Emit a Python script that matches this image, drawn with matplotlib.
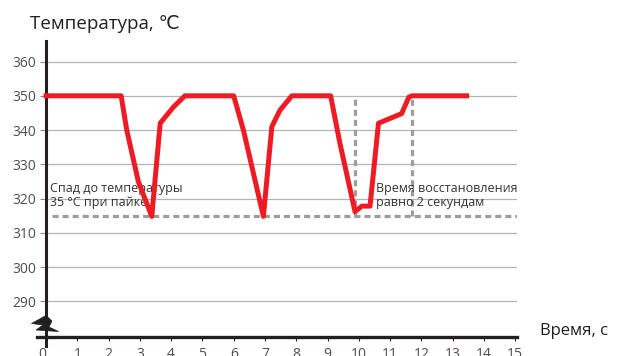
import numpy as np
import matplotlib
matplotlib.use("Agg")
import matplotlib.pyplot as plt
from matplotlib.patches import Polygon

plt.rcParams['font.family'] = ['Open Sans', 'DejaVu Sans']

# temperature curve (s, °C)
t = [0.0, 2.4, 2.58, 2.95, 3.38, 3.65, 4.07, 4.44, 6.0, 6.31, 6.95,
     7.22, 7.48, 7.86, 9.1, 9.4, 9.88, 10.1, 10.36, 10.63, 11.37, 11.6,
     11.7, 13.45]
temp = [350, 350, 340, 325, 314.8, 342, 346.7, 350, 350, 340, 314.8,
        341, 345.8, 350, 350, 336, 316.2, 317.8, 317.8, 342, 344.8, 349.6,
        350, 350]

# guide lines
drop_level = 315
guide_t = [0.2, 15.1]
recov_t = [9.87, 11.7]
recov_top = 350

xticks = list(range(16))
yticks = [290, 300, 310, 320, 330, 340, 350, 360]

red = "#ed1c24"
grey = "#9d9d9d"
dark = "#231f20"

fig = plt.figure(figsize=(6.17, 3.56), dpi=100)
W, H = 617, 356
ax = fig.add_axes([37 / W, 1 - 337.3 / H, (516.7 - 37) / W, (337.3 - 41) / H])
ax.set_xlim(-0.29, 15.05)
ax.set_ylim(279.5, 366)

for s in ["top", "right"]:
    ax.spines[s].set_visible(False)
ax.spines["left"].set_position(("data", 0))
ax.spines["left"].set_linewidth(2.2)
ax.spines["left"].set_color(dark)
ax.spines["bottom"].set_linewidth(2.4)
ax.spines["bottom"].set_color(dark)
ax.axvline(0, ymin=-0.03, ymax=0.01, color=dark, lw=2.2, clip_on=False)

ax.set_yticks(yticks)
ax.set_xticks(xticks)
ax.tick_params(axis="y", length=4, width=0.8, color="#888888", pad=3,
               labelsize=10, labelcolor="#4d4d4d")
ax.tick_params(axis="x", length=3, width=0.8, color=dark, pad=4,
               labelsize=10, labelcolor="#4d4d4d")
ax.get_xticklabels()[0].set_ha("right")
for v in yticks:
    ax.plot([0, 15.05], [v, v], color="#b3b3b3", lw=0.9, zorder=1)

ax.plot(guide_t, [drop_level, drop_level], color=grey, lw=2.3,
        dashes=(1.9, 1.25), zorder=2)
for x in recov_t:
    ax.plot([x, x], [drop_level, recov_top], color=grey, lw=2.3,
            dashes=(1.9, 1.25), zorder=2)

ax.plot(t, temp, color=red, lw=3.6, solid_joinstyle="round", zorder=4)

ax.text(0.12, 317.0, "Спад до температуры\n35 °С при пайке", fontsize=9,
        color="#333333", va="bottom", ha="left", linespacing=1.05, zorder=3)
ax.text(10.55, 317.0, "Время восстановления\nравно 2 секундам", fontsize=9,
        color="#333333", va="bottom", ha="left", linespacing=1.05, zorder=3)

fig.text(30 / W, 1 - 24 / H, "Температура, ℃", fontsize=13.5,
         color="#231f20", va="center", ha="left")
fig.text(540 / W, 1 - 331 / H, "Время, с", fontsize=12,
         color="#231f20", va="center", ha="left")

# axis break mark
pts = [(46, 315.5), (31.5, 323.5), (43, 325), (36, 330), (58.5, 331.5),
       (49, 327), (52, 321)]
brk = Polygon([(x / W, 1 - y / H) for x, y in pts], closed=True,
              transform=fig.transFigure, facecolor=dark, edgecolor=dark,
              lw=0.5)
fig.patches.append(brk)

fig.savefig("out.png", dpi=100)
